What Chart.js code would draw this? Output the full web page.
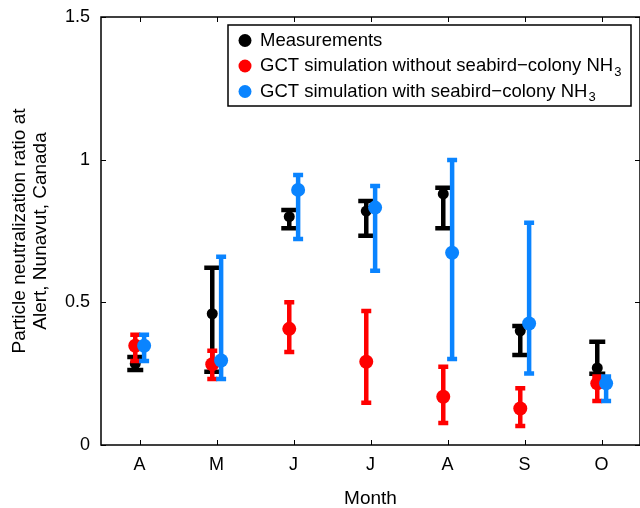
<!DOCTYPE html>
<html>
<head>
<meta charset="utf-8">
<script src="https://cdn.jsdelivr.net/npm/chart.js@4/dist/chart.umd.min.js"></script>
<style>body{margin:0;background:#fff}</style>
</head>
<body>
<canvas id="chart" width="640" height="508"></canvas>
<script>
// Data
const months = ['A', 'M', 'J', 'J', 'A', 'S', 'O'];
const yTicks = [0, 0.5, 1, 1.5];

const measMean = [0.285, 0.46, 0.80, 0.82, 0.88, 0.40, 0.27];
const measLow = [0.263, 0.257, 0.76, 0.733, 0.76, 0.315, 0.25];
const measHigh = [0.308, 0.621, 0.824, 0.855, 0.902, 0.417, 0.362];

const noBirdMean = [0.348, 0.283, 0.407, 0.292, 0.169, 0.128, 0.216];
const noBirdLow = [0.294, 0.231, 0.326, 0.148, 0.077, 0.067, 0.154];
const noBirdHigh = [0.386, 0.33, 0.50, 0.47, 0.274, 0.199, 0.24];

const birdMean = [0.348, 0.296, 0.894, 0.832, 0.674, 0.426, 0.216];
const birdLow = [0.294, 0.231, 0.722, 0.611, 0.301, 0.251, 0.154];
const birdHigh = [0.386, 0.66, 0.946, 0.908, 0.999, 0.779, 0.24];

const FONT = "'Liberation Sans', Arial, sans-serif";
const BLUE = 'rgb(10,132,255)';

function points(mean, shift) {
    return mean.map((v, i) => ({ x: i + shift, y: v }));
}

// vertical error bars, drawn under each dataset's markers
const errorBars = {
    id: 'errorBars',
    beforeDatasetDraw(chart, args) {
        const ds = chart.data.datasets[args.index];
        const { ctx, scales: { x, y } } = chart;
        ctx.save();
        ctx.strokeStyle = ds.backgroundColor;
        ctx.lineWidth = 4.5;
        ds.data.forEach((p, i) => {
            const px = x.getPixelForValue(p.x);
            const lo = y.getPixelForValue(ds.low[i]);
            const hi = y.getPixelForValue(ds.high[i]);
            const w = ds.capWidth / 2;
            ctx.beginPath();
            ctx.moveTo(px, lo);
            ctx.lineTo(px, hi);
            ctx.moveTo(px - w, lo);
            ctx.lineTo(px + w, lo);
            ctx.moveTo(px - w, hi);
            ctx.lineTo(px + w, hi);
            ctx.stroke();
        });
        ctx.restore();
    }
};

// box frame with inward ticks, and the legend
const frame = {
    id: 'frame',
    afterDraw(chart) {
        const { ctx, chartArea: a, scales: { x, y } } = chart;
        ctx.save();
        ctx.strokeStyle = '#000';
        ctx.lineWidth = 1.5;
        ctx.strokeRect(a.left, a.top, a.right - a.left, a.bottom - a.top);
        ctx.lineWidth = 1;
        ctx.beginPath();
        months.forEach((m, i) => {
            const px = Math.round(x.getPixelForValue(i)) + 0.5;
            ctx.moveTo(px, a.bottom); ctx.lineTo(px, a.bottom - 5);
            ctx.moveTo(px, a.top); ctx.lineTo(px, a.top + 5);
        });
        yTicks.forEach(v => {
            const py = Math.round(y.getPixelForValue(v)) + 0.5;
            ctx.moveTo(a.left, py); ctx.lineTo(a.left + 5, py);
            ctx.moveTo(a.right, py); ctx.lineTo(a.right - 5, py);
        });
        ctx.stroke();

        // legend
        const bx = 228, by = 25, bw = 403, bh = 81;
        ctx.fillStyle = '#fff';
        ctx.fillRect(bx, by, bw, bh);
        ctx.lineWidth = 1.5;
        ctx.strokeRect(bx, by, bw, bh);
        const rows = [
            { color: '#000', text: 'Measurements', sub: '' },
            { color: '#f00', text: 'GCT simulation without seabird\u2212colony NH', sub: '3' },
            { color: BLUE, text: 'GCT simulation with seabird\u2212colony NH', sub: '3' }
        ];
        ctx.textBaseline = 'middle';
        rows.forEach((r, i) => {
            const cy = by + 15.5 + i * 25.5;
            ctx.fillStyle = r.color;
            ctx.beginPath();
            ctx.arc(bx + 17, cy, 6.5, 0, Math.PI * 2);
            ctx.fill();
            ctx.fillStyle = '#000';
            ctx.font = '18.5px ' + FONT;
            ctx.fillText(r.text, bx + 32, cy);
            if (r.sub) {
                const tw = ctx.measureText(r.text).width;
                ctx.font = '13px ' + FONT;
                ctx.fillText(r.sub, bx + 33 + tw, cy + 6);
            }
        });
        ctx.restore();
    }
};

new Chart(document.getElementById('chart'), {
    type: 'scatter',
    data: {
        datasets: [
            {
                label: 'Measurements',
                data: points(measMean, -0.055),
                low: measLow, high: measHigh, capWidth: 16,
                backgroundColor: '#000', pointRadius: 5.5, order: 3
            },
            {
                label: 'GCT simulation without seabird-colony NH3',
                data: points(noBirdMean, -0.055),
                low: noBirdLow, high: noBirdHigh, capWidth: 10,
                backgroundColor: '#f00', pointRadius: 7, order: 2
            },
            {
                label: 'GCT simulation with seabird-colony NH3',
                data: points(birdMean, 0.06),
                low: birdLow, high: birdHigh, capWidth: 10,
                backgroundColor: BLUE, pointRadius: 7, order: 1
            }
        ]
    },
    options: {
        responsive: false,
        animation: false,
        events: [],
        layout: { autoPadding: false, padding: { top: 17, right: 0, left: 0, bottom: 0 } },
        elements: { point: { borderWidth: 0, hoverRadius: 7 } },
        plugins: { legend: { display: false }, tooltip: { enabled: false } },
        scales: {
            x: {
                type: 'linear',
                min: -0.5,
                max: 6.5,
                grid: { display: false, drawTicks: false },
                border: { display: false },
                afterBuildTicks(scale) { scale.ticks = months.map((m, i) => ({ value: i })); },
                afterFit(scale) {
                    scale.height = 63;
                    scale.paddingLeft = 0;
                    scale.paddingRight = 0;
                },
                ticks: {
                    padding: 9,
                    color: '#000',
                    font: { family: FONT, size: 18 },
                    callback: v => months[v]
                },
                title: {
                    display: true,
                    text: 'Month',
                    color: '#000',
                    font: { family: FONT, size: 19, lineHeight: 0.95 },
                    padding: { top: 0, bottom: 0 }
                }
            },
            y: {
                min: 0,
                max: 1.5,
                grid: { display: false, drawTicks: false },
                border: { display: false },
                afterBuildTicks(scale) { scale.ticks = yTicks.map(v => ({ value: v })); },
                afterFit(scale) {
                    scale.width = 101;
                    scale.paddingTop = 0;
                    scale.paddingBottom = 0;
                },
                ticks: {
                    padding: 11,
                    color: '#000',
                    font: { family: FONT, size: 18 },
                    callback: v => String(v)
                },
                title: {
                    display: true,
                    text: ['Particle neutralization ratio at', 'Alert, Nunavut, Canada'],
                    color: '#000',
                    font: { family: FONT, size: 19, lineHeight: 1.08 },
                    padding: { top: 10, bottom: 0 }
                }
            }
        }
    },
    plugins: [errorBars, frame]
});
</script>
</body>
</html>
